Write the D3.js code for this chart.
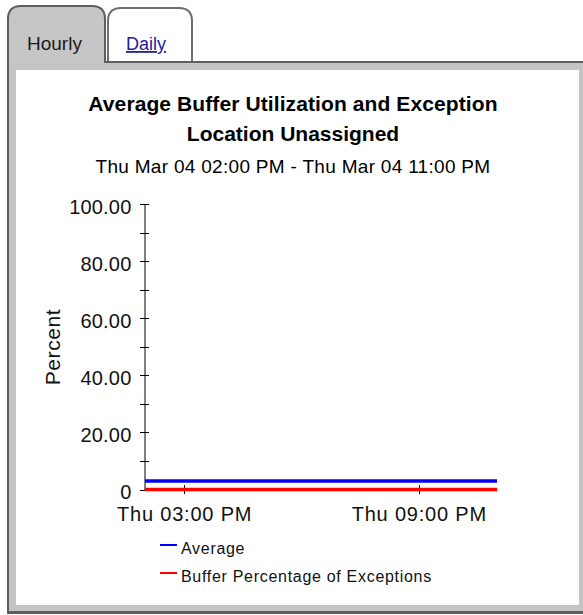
<!DOCTYPE html>
<html>
<head>
<meta charset="utf-8">
<script src="https://cdn.jsdelivr.net/npm/d3@7"></script>
<style>
  body { margin: 0; background: #fff; }
  text { font-family: "Liberation Sans", Arial, sans-serif; }
</style>
</head>
<body>
<svg id="chart"></svg>
<script>
var WIDTH = 583;
var HEIGHT = 615;

// hourly samples, Thu Mar 04 2:00 PM - 11:00 PM
var hours = ["14:00", "15:00", "16:00", "17:00", "18:00", "19:00", "20:00", "21:00", "22:00", "23:00"];
var averageValues = [3.0, 3.0, 3.0, 3.0, 3.0, 3.0, 3.0, 3.0, 3.0, 3.0];
var exceptionValues = [0, 0, 0, 0, 0, 0, 0, 0, 0, 0];

var yTickValues = [0, 20, 40, 60, 80, 100];
var yMinorTicks = [0, 10, 20, 30, 40, 50, 60, 70, 80, 90, 100];
var xTickHours = ["15:00", "21:00"];

var seriesNames = ["Average", "Buffer Percentage of Exceptions"];
var seriesColors = ["#0000ff", "#ff0000"];

var parseHour = d3.timeParse("%Y-%m-%d %H:%M");
function toDate(h) { return parseHour("2004-03-04 " + h); }

var svg = d3.select("#chart")
    .attr("width", WIDTH)
    .attr("height", HEIGHT);

// ---- tabbed panel frame ----
svg.append("rect") //gray border band
    .attr("x", 8).attr("y", 62)
    .attr("width", WIDTH - 8).attr("height", 614 - 62)
    .attr("fill", "#c4c4c4");
svg.append("rect") //white panel body
    .attr("x", 16).attr("y", 70)
    .attr("width", 563).attr("height", 535)
    .attr("fill", "#fff");

svg.append("path") //active tab
    .attr("d", "M8,64 V19 Q8,6 21,6 H92 Q105,6 105,19 V62")
    .attr("fill", "#c6c6c6")
    .attr("stroke", "#5e5e5e")
    .attr("stroke-width", 2);
svg.append("path") //inactive tab
    .attr("d", "M108,62 V21 Q108,8 121,8 H179 Q192,8 192,21 V62")
    .attr("fill", "#fff")
    .attr("stroke", "#6e6e6e")
    .attr("stroke-width", 2);

svg.append("line") //top edge
    .attr("x1", 104).attr("x2", WIDTH)
    .attr("y1", 62).attr("y2", 62)
    .attr("stroke", "#5e5e5e").attr("stroke-width", 2);
svg.append("line") //left edge
    .attr("x1", 8).attr("x2", 8)
    .attr("y1", 40).attr("y2", 614)
    .attr("stroke", "#5e5e5e").attr("stroke-width", 2);
svg.append("line") //bottom edge
    .attr("x1", 7).attr("x2", WIDTH)
    .attr("y1", 612.5).attr("y2", 612.5)
    .attr("stroke", "#5e5e5e").attr("stroke-width", 3);

svg.append("text")
    .attr("x", 27).attr("y", 50)
    .attr("font-size", 19)
    .attr("fill", "#1a1a1a")
    .text("Hourly");
svg.append("text")
    .attr("x", 126).attr("y", 50)
    .attr("font-size", 18)
    .attr("fill", "#1c1ca0")
    .attr("text-decoration", "underline")
    .text("Daily");

// ---- titles ----
var titles = [
    {text: "Average Buffer Utilization and Exception", y: 111, size: 21, weight: "bold", spacing: 0.1},
    {text: "Location Unassigned", y: 141, size: 21, weight: "bold", spacing: 0},
    {text: "Thu Mar 04 02:00 PM - Thu Mar 04 11:00 PM", y: 173, size: 19, weight: "normal", spacing: 0.3}
];
svg.selectAll(".title")
    .data(titles)
    .enter()
    .append("text")
    .attr("class", "title")
    .attr("x", 293)
    .attr("y", function(d) { return d.y; })
    .attr("text-anchor", "middle")
    .attr("font-size", function(d) { return d.size; })
    .attr("font-weight", function(d) { return d.weight; })
    .attr("letter-spacing", function(d) { return d.spacing; })
    .attr("fill", "#000")
    .text(function(d) { return d.text; });

// ---- scales ----
var x = d3.scaleTime()
    .domain([toDate(hours[0]), toDate(hours[hours.length - 1])])
    .range([145, 497]);
var y = d3.scaleLinear()
    .domain([0, 100])
    .range([489.5, 204]);

// y axis: labels via d3.axisLeft, crossing ticks drawn from the scale
var yAxis = svg.append("g")
    .attr("transform", "translate(144.5,0)")
    .call(d3.axisLeft(y)
        .tickValues(yTickValues)
        .tickSize(0)
        .tickPadding(13)
        .tickFormat(function(d) { return d === 0 ? "0" : d3.format(".2f")(d); }));
yAxis.select(".domain").attr("stroke", "#000");
yAxis.selectAll("text")
    .attr("font-size", 20)
    .attr("font-family", "Liberation Sans, Arial, sans-serif")
    .attr("letter-spacing", 0.2)
    .attr("fill", "#111")
    .attr("dy", "0.45em");
svg.append("g")
    .selectAll("line")
    .data(yMinorTicks)
    .enter()
    .append("line")
    .attr("x1", 140).attr("x2", 149)
    .attr("y1", function(d) { return Math.round(y(d)) + 0.5; })
    .attr("y2", function(d) { return Math.round(y(d)) + 0.5; })
    .attr("stroke", "#000");

// x axis
var xAxis = svg.append("g")
    .attr("transform", "translate(0,489.5)")
    .call(d3.axisBottom(x)
        .tickValues(xTickHours.map(toDate))
        .tickSize(0)
        .tickPadding(17)
        .tickFormat(d3.timeFormat("%a %I:%M %p")));
xAxis.select(".domain").attr("stroke", "#000");
xAxis.selectAll("text")
    .attr("font-size", 20)
    .attr("font-family", "Liberation Sans, Arial, sans-serif")
    .attr("letter-spacing", 0.8)
    .attr("fill", "#111");
svg.append("g")
    .selectAll("line")
    .data(xTickHours)
    .enter()
    .append("line")
    .attr("x1", function(d) { return Math.round(x(toDate(d))) + 0.5; })
    .attr("x2", function(d) { return Math.round(x(toDate(d))) + 0.5; })
    .attr("y1", 485).attr("y2", 494)
    .attr("stroke", "#000");

// y axis title
svg.append("text")
    .attr("transform", "translate(60,347) rotate(-90)")
    .attr("text-anchor", "middle")
    .attr("font-size", 21)
    .attr("letter-spacing", 0.6)
    .attr("fill", "#111")
    .text("Percent");

// ---- series ----
var series = [averageValues, exceptionValues];
var line = d3.line()
    .x(function(d, i) { return x(toDate(hours[i])); })
    .y(function(d) { return y(d); });

svg.append("g")
    .selectAll("path")
    .data(series)
    .enter()
    .append("path")
    .attr("d", line)
    .attr("fill", "none")
    .attr("stroke", function(d, i) { return seriesColors[i]; })
    .attr("stroke-width", 3.5);

// ---- legend ----
var legend = svg.append("g")
    .selectAll("g")
    .data(seriesNames)
    .enter()
    .append("g")
    .attr("transform", function(d, i) { return "translate(0," + (545 + i * 28) + ")"; });
legend.append("line")
    .attr("x1", 160).attr("x2", 177)
    .attr("stroke", function(d, i) { return seriesColors[i]; })
    .attr("stroke-width", 2);
legend.append("text")
    .attr("x", 181).attr("y", 9)
    .attr("font-size", 16)
    .attr("letter-spacing", 0.7)
    .attr("fill", "#111")
    .text(function(d) { return d; });
</script>
</body>
</html>
